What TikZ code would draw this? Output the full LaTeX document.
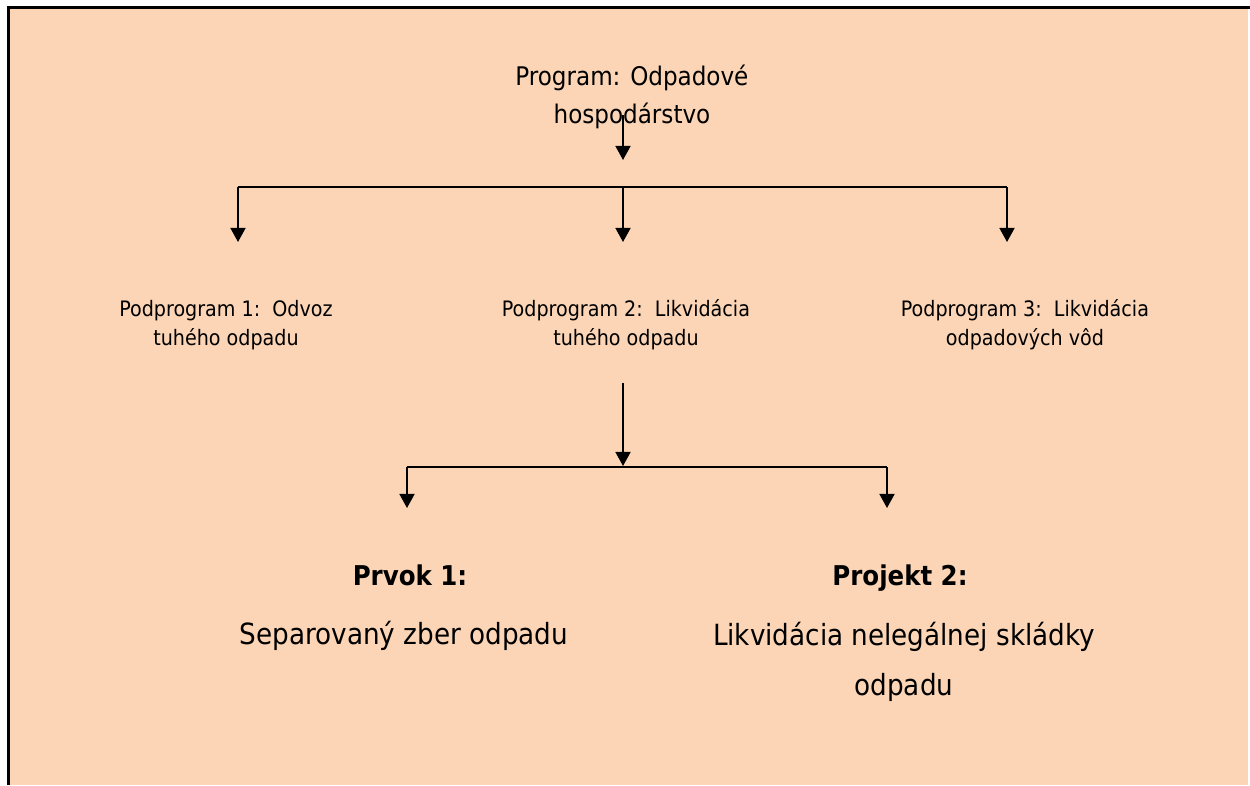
\documentclass[tikz,border=0pt]{standalone}
\usepackage{fontspec}
\setmainfont{DejaVu Sans Condensed}
\usetikzlibrary{arrows.meta, positioning}
\definecolor{peach}{RGB}{251,213,181}

\begin{document}
\begin{tikzpicture}[x=0.02cm,y=-0.02cm,>={Triangle[length=8pt,width=8.5pt]},line width=1.1pt]
	\tikzset{
		prog/.style={align=center, font=\fontsize{14.6}{22}\selectfont},
		sub/.style={align=center, font=\fontsize{12.1}{16.4}\selectfont},
		head/.style={align=center, anchor=base, font=\fontsize{15.5}{18}\selectfont\bfseries},
		desc/.style={align=center, font=\fontsize{16.6}{28.3}\selectfont}
	}
	\useasboundingbox (0,0) rectangle (1250,785);
	\fill[peach] (8,8) rectangle (1248,785);
	\draw[line width=1.7pt] (8.5,785) -- (8.5,7.5) -- (1250,7.5);
	
	\node (program) [prog] at (632,97) {Program: Odpadové\\hospodárstvo};
	
	\node (sub1) [sub] at (226,325) {Podprogram 1:\ \ Odvoz\\tuhého odpadu};
	\node (sub2) [sub] at (626,325) {Podprogram 2:\ \ Likvidácia\\tuhého odpadu};
	\node (sub3) [sub] at (1025,325) {Podprogram 3:\ \ Likvidácia\\odpadových vôd};
	
	\node (prvok) [head] at (410,585) {Prvok 1:};
	\node (projekt) [head] at (900,585) {Projekt 2:};
	\node (sep) [desc] at (404,636) {Separovaný zber odpadu};
	\node (likv) [desc] at (904,662) {Likvidácia nelegálnej skládky\\odpadu};
	
	\coordinate (p0) at (623,115);
	\coordinate (p1) at (623,160);
	\coordinate (s0) at (623,187);
	\coordinate (s1) at (238,187);
	\coordinate (s2) at (1007,187);
	\coordinate (e1) at (238,242);
	\coordinate (e2) at (623,242);
	\coordinate (e3) at (1007,242);
	\coordinate (q0) at (623,383);
	\coordinate (q1) at (623,466);
	\coordinate (r1) at (407,467);
	\coordinate (r2) at (887,467);
	\coordinate (f1) at (407,508);
	\coordinate (f2) at (887,508);
	
	\draw[->] (p0) -- (p1);
	\draw[->] (s1) -- (e1);
	\draw (s1) -- (s2);
	\draw[->] (s0) -- (e2);
	\draw[->] (s2) -- (e3);
	\draw[->] (q0) -- (q1);
	\draw[->] (r1) -- (f1);
	\draw (r1) -- (r2);
	\draw[->] (r2) -- (f2);
	
\end{tikzpicture}
\end{document}
